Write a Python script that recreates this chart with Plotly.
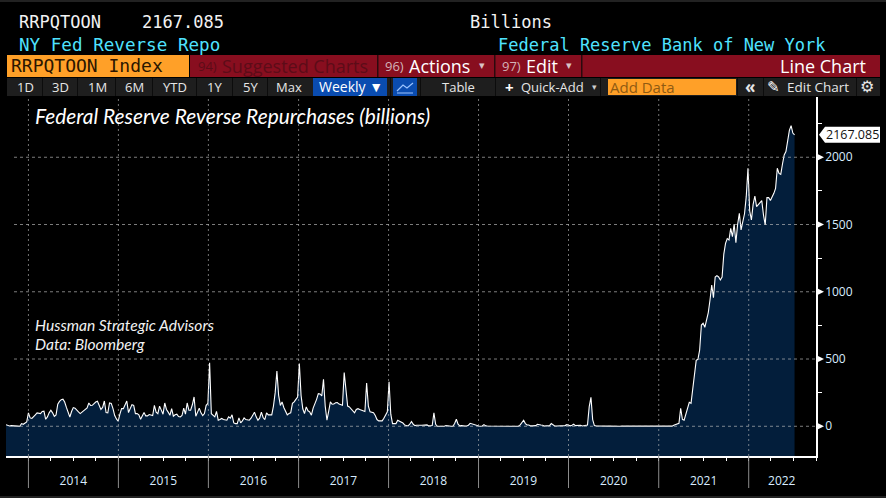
import pandas as pd
import plotly.graph_objects as go

# ---------- data (weekly, billions) ----------
start_date = "2013-10-02"
values_2013_2015 = [12,5,2,5,5,6,4,1,0,20,15,22,32,99,62,58,69,85,99,96,94,110,112,52,70,100,119,100,74,85,
    165,185,198,201,180,140,100,69,110,139,135,118,107,94,105,120,125,136,173,155,156,170,180,186,160,125,140,188,
    102,100,173,170,131,80,55,37,90,131,131,165,188,102,130,161,155,94,94,85,52,80,102,77,77,
    87,85,80,156,105,94,150,120,90,173,125,105,82,131,75,85,90,72,70,80,135,90,173,119,119,160,218,75,110,135,100,80,95,156,170,473]
values_2016_2017 = [94,85,70,110,45,50,58,50,50,45,70,60,85,25,20,20,62,25,40,62,50,45,45,60,85,105,70,45,60,105,65,50,100,85,85,85,
    150,250,411,230,155,181,140,105,85,95,100,170,181,200,218,466,230,130,94,144,115,107,82,135,165,200,243,240,225,349,150,45,110,181,164,165,175,176,165,161,156,
    399,250,150,144,130,115,100,125,131,125,119,118,110,322,150,107,102,100,80,50,40,40,40,60,82,107,330,90]
values_2018_2019 = [20,20,20,45,40,32,25,10,3,2,15,35,15,5,8,10,8,8,8,8,10,3,2,5,100,15,0,0,0,0,0,6,6,2,0,0,20,52,15,3,5,6,2,2,8,22,18,10,8,3,2,0,2,12,3,2,2,5,5,2,2,4,5,2,0,0,0,0,0,0,2,2,5,0,10,25,45,20,10,10,3,3,3,5,15,15,10,8,2,3,3,5,20,8,2,2,2,2,0,3,5,12,5,3,8,15,5,5,3,8,2,3,5,10,146,215]
values_2020 = [50,5,3,2,3,2,1,1,2,1,1,0,1,2,1,0,0,1,1,0,0,1,0,0,1,1,0,0,1,0,0,1,0,0,1,0,0,1,1,0,0,0,1,5,2,1,1,8,12]
values_2021_2022 = [17,22,134,52,45,84,130,178,171,290,400,490,498,567,753,766,736,790,845,939,1050,956,1110,1120,1110,1088,1110,1280,1360,1395,1385,1472,1410,1504,1365,1500,1583,1460,1520,1580,1707,1918,1600,1534,1650,1712,1633,1650,1660,1678,1570,1497,1700,1700,1678,1700,1732,1769,1918,1880,1873,1950,2017,2042,2120,2200,2235,2180,2167]
values = values_2013_2015 + values_2016_2017 + values_2018_2019 + values_2020 + values_2021_2022
dates = pd.date_range(start_date, periods=len(values), freq="7D")

year_labels = ["2014","2015","2016","2017","2018","2019","2020","2021","2022"]
year_label_dates = ["2014-07-02","2015-07-02","2016-07-02","2017-07-02","2018-07-02","2019-07-02","2020-07-02","2021-07-02","2022-05-15"]
year_starts = [f"{y}-01-01" for y in year_labels]
y_ticks = [0,500,1000,1500,2000]
y_tick_labels = ["0","500","1000","1500","2000"]
last_value_label = "2167.085"
last_value = 2167.085

# ---------- geometry ----------
W, H = 886, 498
L, R, T, B = 6, 816, 97, 456
Y_MIN, Y_MAX = -221, 2448
X_RANGE = ["2013-10-02", "2022-10-01"]
px = lambda x: (x - L) / (R - L)
py = lambda y: (B - y) / (B - T)

shapes, annots = [], []

def rect(x0, y0, x1, y1, color):
    shapes.append(dict(type="rect", xref="paper", yref="paper", x0=px(x0), x1=px(x1), y0=py(y0), y1=py(y1),
                       fillcolor=color, line_width=0, layer="below"))

def text(x, y, s, size=13, color="#e6e6e6", family="Open Sans", anchor="center"):
    annots.append(dict(xref="paper", yref="paper", x=px(x), y=py(y), text=s, showarrow=False, xanchor=anchor,
                       yanchor="middle", borderpad=0, font=dict(size=size, color=color, family=family)))

MONO = "DejaVu Sans Mono"
RED, ORANGE, DARK = "#880e1f", "#ffa028", "#1e1e1e"

# top / bottom strips
rect(0, 0, 886, 2, "#222222")
rect(0, 496, 886, 498, "#222222")

# header lines
text(18, 22, "RRPQTOON", 17, "#f2f2f2", MONO, "left")
text(141, 22, "2167.085", 17, "#f2f2f2", MONO, "left")
text(469, 22, "Billions", 17, "#f2f2f2", MONO, "left")
text(18, 45, "NY Fed Reverse Repo", 17.6, "#4fe3ff", MONO, "left")
text(497, 45, "Federal Reserve Bank of New York", 17, "#4fe3ff", MONO, "left")

# red / orange row
rect(7, 55, 189, 77, ORANGE)
rect(190, 55, 880, 77, RED)
for sep in (377, 494, 581):
    rect(sep, 55, sep + 1.5, 77, "#2a0a0e")
text(10, 66, "RRPQTOON Index", 18, "#2b1600", MONO, "left")
text(197, 66, "94)", 13, "#5c0c18", "Open Sans", "left")
text(221, 66, "Suggested Charts", 18, "#5c0c18", "Open Sans", "left")
text(384, 66, "96)", 13, "#d3b3b8", "Open Sans", "left")
text(408, 66, "Actions", 18, "#ffffff", "Open Sans", "left")
text(482, 66, "▾", 11, "#d9c3c6", "DejaVu Sans")
text(501, 66, "97)", 13, "#d3b3b8", "Open Sans", "left")
text(525, 66, "Edit", 18, "#ffffff", "Open Sans", "left")
text(569, 66, "▾", 11, "#d9c3c6", "DejaVu Sans")
text(867, 66, "Line Chart", 18, "#ffffff", "Open Sans", "right")

# button row
rect(7, 78, 880, 96, DARK)
for sep in (42, 77, 115, 152, 196, 232, 267, 390, 420, 495, 600, 737, 763, 856):
    rect(sep, 78, sep + 1, 96, "#0c0c0c")
for s, x in (("1D",25),("3D",60),("1M",97),("6M",134),("YTD",175),("1Y",214),("5Y",250),("Max",289)):
    text(x, 87, s, 13)
rect(313, 78, 387, 96, "#0a4cb0")
text(351, 87, "Weekly ▼", 14, "#ffffff")
rect(393, 78, 417, 96, "#0a4cb0")
shapes.append(dict(type="path", xref="paper", yref="paper", layer="above",
    path=f"M {px(397)} {py(91)} L {px(403)} {py(85)} L {px(407)} {py(88)} L {px(413)} {py(83)}",
    line=dict(color="#9cc4ff", width=1.2)))
shapes.append(dict(type="line", xref="paper", yref="paper", x0=px(397), x1=px(413), y0=py(93), y1=py(93),
                   line=dict(color="#9cc4ff", width=1)))
text(458, 87, "Table", 13)
text(509, 87, "<b>+</b>", 15, "#ffffff")
text(552, 87, "Quick-Add", 13)
text(594, 87, "▾", 9, "#cccccc", "DejaVu Sans")
rect(608, 79, 736, 95, ORANGE)
text(609, 87, "Add Data", 15, "#8f5a12", "Open Sans", "left")
text(750, 86, "<b>«</b>", 17, "#e6e6e6")
text(773, 87, "✎", 15, "#ffffff", "DejaVu Sans")
text(818, 87, "Edit Chart", 13.5)
text(867, 87, "⚙", 16, "#e6e6e6", "DejaVu Sans")

# chart notes
text(33.5, 115, "<i>Federal Reserve Reverse Repurchases (billions)</i>", 20.9, "#ffffff", "Lato", "left")
text(33.5, 325, "<i>Hussman Strategic Advisors</i>", 15.6, "#f2f2f2", "Lato", "left")
text(33.5, 344, "<i>Data: Bloomberg</i>", 15.6, "#f2f2f2", "Lato", "left")

# gridlines above the fill
for v in y_ticks:
    shapes.append(dict(type="line", xref="paper", yref="y", x0=px(14), x1=1, y0=v, y1=v, layer="above",
                       line=dict(color="rgba(190,190,190,0.65)", width=1, dash="3px,3px")))
    shapes.append(dict(type="path", xref="paper", xsizemode="pixel", xanchor=1, yref="y", ysizemode="pixel", yanchor=v,
                       path="M 0 -4 L 8 0 L 0 4 Z", fillcolor="#ffffff", line_width=0, layer="above"))
for d in year_starts:
    shapes.append(dict(type="line", xref="x", yref="paper", x0=d, x1=d, y0=0, y1=1, layer="above",
                       line=dict(color="rgba(190,190,190,0.6)", width=1, dash="2px,3px")))
    shapes.append(dict(type="line", xref="x", yref="paper", x0=d, x1=d, y0=0, y1=py(488), layer="above",
                       line=dict(color="#8c8c8c", width=1)))

# last value tag
shapes.append(dict(type="path", xref="paper", xsizemode="pixel", xanchor=1, yref="y", ysizemode="pixel", yanchor=last_value,
                   path="M 3 0 L 9 8 L 64 8 L 64 -8 L 9 -8 Z", fillcolor="#ffffff", line_width=0, layer="above"))
annots.append(dict(xref="paper", yref="y", x=px(852), y=last_value, text=last_value_label, showarrow=False,
                   xanchor="center", yanchor="middle", borderpad=0, font=dict(size=12.5, color="#111111", family="Open Sans")))

fig = go.Figure()
fig.add_trace(go.Scatter(x=dates, y=[Y_MIN] * len(values), mode="lines", line=dict(width=0), hoverinfo="skip", showlegend=False))
fig.add_trace(go.Scatter(x=dates, y=values, mode="lines", fill="tonexty", fillcolor="#031e3b",
                         line=dict(color="#ffffff", width=1.1), name="RRPQTOON", showlegend=False))

fig.update_layout(
    width=W, height=H, autosize=False, paper_bgcolor="#000000", plot_bgcolor="#000000",
    margin=dict(l=L, r=W - R, t=T, b=H - B, pad=0), showlegend=False, shapes=shapes, annotations=annots,
    xaxis=dict(type="date", range=X_RANGE, tickmode="array", tickvals=year_label_dates, ticktext=year_labels,
               ticks="outside", ticklen=13, tickcolor="rgba(0,0,0,0)", showgrid=False, zeroline=False,
               showline=True, linecolor="#ffffff", linewidth=1.5,
               tickfont=dict(family="Open Sans", size=12, color="#d8ecff"),
               minor=dict(dtick="M3", tick0="2014-01-01", ticks="outside", ticklen=3, tickcolor="#ffffff", tickwidth=1, showgrid=False)),
    yaxis=dict(side="right", range=[Y_MIN, Y_MAX], tickmode="array", tickvals=y_ticks, ticktext=y_tick_labels,
               ticks="outside", ticklen=5, tickcolor="rgba(0,0,0,0)", showgrid=False, zeroline=False,
               showline=True, linecolor="#ffffff", linewidth=1.5,
               tickfont=dict(family="Open Sans", size=12, color="#d8ecff"),
               minor=dict(dtick=250, tick0=0, ticks="outside", ticklen=4, tickcolor="#ffffff", tickwidth=1, showgrid=False)),
)

fig.write_html("out.html", config=dict(displayModeBar=False),
               post_script="document.body.style.margin='0';document.body.style.background='#000';document.body.style.overflow='hidden';")
